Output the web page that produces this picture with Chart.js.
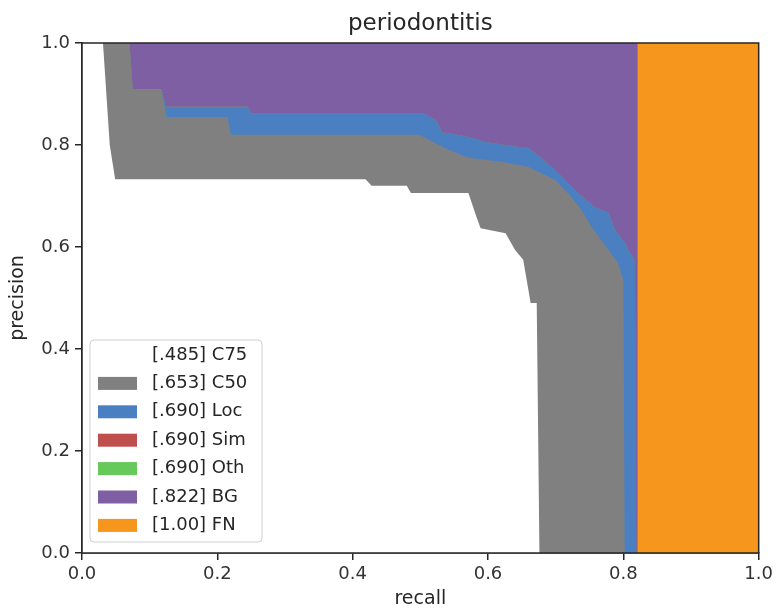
<!DOCTYPE html>
<html>
<head>
<meta charset="utf-8">
<script src="https://cdn.jsdelivr.net/npm/chart.js@4.4.1/dist/chart.umd.min.js"></script>
<style>
  body { margin: 0; background: #fff; }
  #wrap { width: 777px; height: 610px; }
</style>
</head>
<body>
<div id="wrap"><canvas id="pr"></canvas></div>
<script>
// legend names and AP values
var categories = ['C75', 'C50', 'Loc', 'Sim', 'Oth', 'BG', 'FN'];
var apValues = ['.485', '.653', '.690', '.690', '.690', '.822', '1.00'];
var colors = ['#ffffff', '#808080', '#4a80c2', '#bf4f4c', '#66c95a', '#7f5fa3', '#f7961c'];

// precision vs recall
var c75Recall = [0, 0.031, 0.041, 0.049, 0.419, 0.428, 0.48, 0.486, 0.571, 0.583, 0.589, 0.626, 0.64, 0.652, 0.663, 0.672, 0.676, 1.0];
var c75Precision = [1, 1, 0.80, 0.733, 0.733, 0.72, 0.72, 0.706, 0.706, 0.659, 0.637, 0.627, 0.594, 0.575, 0.49, 0.49, 0, 0];

var c50Recall = [0, 0.07, 0.075, 0.117, 0.125, 0.215, 0.22, 0.498, 0.542, 0.571, 0.62, 0.66, 0.70, 0.723, 0.738, 0.753, 0.767, 0.778, 0.792, 0.80, 0.802, 1.0];
var c50Precision = [1, 1, 0.91, 0.91, 0.855, 0.855, 0.82, 0.82, 0.79, 0.775, 0.767, 0.757, 0.731, 0.698, 0.673, 0.639, 0.614, 0.594, 0.569, 0.535, 0, 0];

var locRecall = [0, 0.07, 0.075, 0.117, 0.125, 0.245, 0.25, 0.505, 0.523, 0.532, 0.571, 0.596, 0.645, 0.66, 0.682, 0.704, 0.733, 0.758, 0.778, 0.788, 0.803, 0.807, 0.817, 0.819, 1.0];
var locPrecision = [1, 1, 0.91, 0.91, 0.875, 0.875, 0.862, 0.862, 0.849, 0.825, 0.816, 0.806, 0.796, 0.794, 0.771, 0.745, 0.706, 0.678, 0.667, 0.633, 0.608, 0.594, 0.575, 0, 0];

// Sim and Oth have the same curve as Loc (.690)
var simRecall = locRecall, simPrecision = locPrecision;
var othRecall = locRecall, othPrecision = locPrecision;

var bgRecall = [0, 0.821, 0.821, 1.0];
var bgPrecision = [1, 1, 0, 0];

var fnRecall = [0, 1.0];
var fnPrecision = [1, 1];

var tickValues = [0, 0.2, 0.4, 0.6, 0.8, 1.0];

function pts(xs, ys) {
  var out = [];
  for (var i = 0; i < xs.length; i++) out.push({x: xs[i], y: ys[i]});
  return out;
}

var curves = [
  pts(c75Recall, c75Precision),
  pts(c50Recall, c50Precision),
  pts(locRecall, locPrecision),
  pts(simRecall, simPrecision),
  pts(othRecall, othPrecision),
  pts(bgRecall, bgPrecision),
  pts(fnRecall, fnPrecision)
];

Chart.defaults.font.family = "'DejaVu Sans', sans-serif";
Chart.defaults.font.size = 18;
Chart.defaults.color = '#262626';

// dataset 0 is drawn last, so each area sits over the ones after it
var datasets = categories.map(function(c, i) {
  return {
    label: '[' + apValues[i] + '] ' + c,
    data: curves[i],
    backgroundColor: colors[i],
    borderColor: colors[i],
    borderWidth: 0,
    pointRadius: 0,
    tension: 0,
    fill: 'origin'
  };
});

var boxLegend = {
  id: 'boxLegend',
  afterDraw: function(chart) {
    var ctx = chart.ctx, a = chart.chartArea;
    ctx.save();
    // spines
    ctx.strokeStyle = '#262626';
    ctx.lineWidth = 1.5;
    ctx.strokeRect(a.left, a.top, a.right - a.left, a.bottom - a.top);

    var w = 172, h = 202;
    var left = a.left + 8, top = a.bottom - 11 - h;
    ctx.fillStyle = 'rgba(255,255,255,0.85)';
    ctx.strokeStyle = '#d0d0d0';
    ctx.lineWidth = 1;
    ctx.beginPath();
    ctx.roundRect(left, top, w, h, 4);
    ctx.fill();
    ctx.stroke();

    ctx.font = "18px 'DejaVu Sans'";
    ctx.textBaseline = 'middle';
    chart.data.datasets.forEach(function(ds, i) {
      var cy = top + 15 + i * 28.4;
      ctx.fillStyle = ds.backgroundColor;
      ctx.fillRect(left + 8, cy - 6.5, 39, 13);
      ctx.fillStyle = '#262626';
      ctx.fillText(ds.label, left + 62, cy);
    });
    ctx.restore();
  }
};

new Chart(document.getElementById('pr'), {
  type: 'line',
  data: { datasets: datasets },
  plugins: [boxLegend],
  options: {
    responsive: true,
    maintainAspectRatio: false,
    animation: false,
    layout: { padding: { left: 0, right: 16, top: 0, bottom: 0 } },
    plugins: {
      legend: { display: false },
      tooltip: { enabled: false },
      title: {
        display: true,
        fullSize: false,
        text: 'periodontitis',
        color: '#262626',
        font: { size: 23, weight: 'normal' },
        padding: { top: 10, bottom: 5.4 }
      }
    },
    scales: {
      x: {
        type: 'linear',
        min: 0,
        max: 1,
        afterBuildTicks: function(scale) {
          scale.ticks = tickValues.map(function(v) { return {value: v}; });
        },
        afterFit: function(scale) { scale.height = 57; },
        ticks: {
          padding: 4,
          color: '#333',
          callback: function(v) { return v.toFixed(1); }
        },
        grid: { drawOnChartArea: false, drawTicks: true, tickLength: 7, color: '#262626', lineWidth: 1.5 },
        border: { display: true, color: '#262626', width: 1.5 },
        title: { display: true, text: 'recall', color: '#262626', font: { size: 19 }, padding: { top: 0, bottom: 0 } }
      },
      y: {
        min: 0,
        max: 1,
        afterBuildTicks: function(scale) {
          scale.ticks = tickValues.map(function(v) { return {value: v}; });
        },
        afterFit: function(scale) { scale.width = 82; },
        ticks: {
          padding: 5,
          color: '#333',
          callback: function(v) { return v.toFixed(1); }
        },
        grid: { drawOnChartArea: false, drawTicks: true, tickLength: 7, color: '#262626', lineWidth: 1.5 },
        border: { display: true, color: '#262626', width: 1.5 },
        title: { display: true, text: 'precision', color: '#262626', font: { size: 19 }, padding: { top: 6.6, bottom: 0 } }
      }
    }
  }
});
</script>
</body>
</html>
